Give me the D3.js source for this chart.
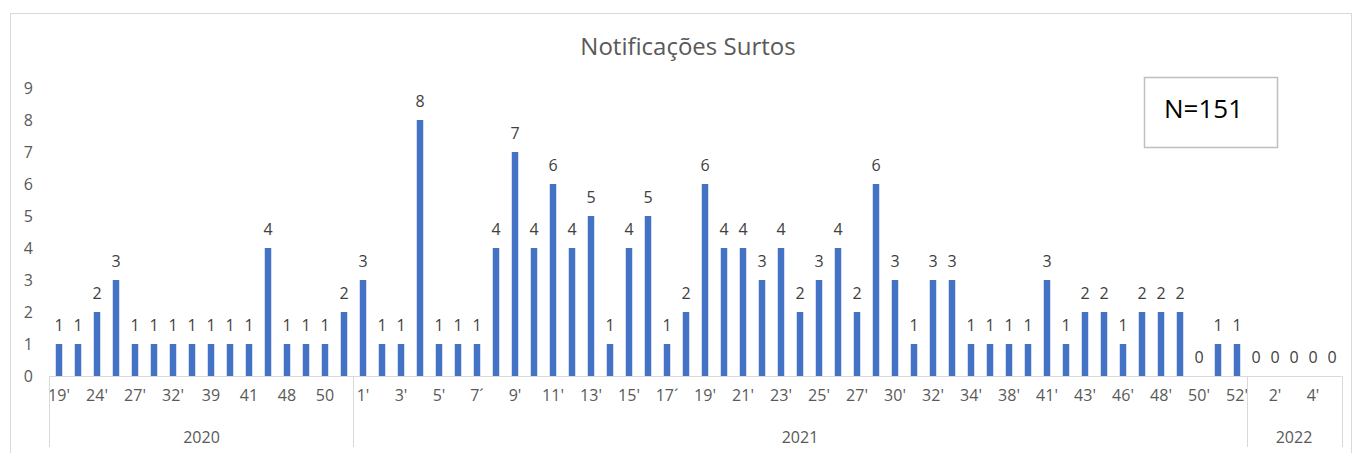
<!DOCTYPE html>
<html>
<head>
<meta charset="utf-8">
<script src="https://cdn.jsdelivr.net/npm/d3@7"></script>
<style>
  body { margin: 0; background: #fff; }
  text { font-family: "Open Sans", "Noto Sans", sans-serif; }
</style>
</head>
<body>
<svg id="chart" width="1355" height="453"></svg>
<script>
// weeks per year (every other label is shown, like the original)
var weeks2020 = ["19'", "22'", "24'", "26'", "27'", "30'", "32'", "36'", "39", "40", "41", "45", "48", "49", "50", "53"];
var values2020 = [1, 1, 2, 3, 1, 1, 1, 1, 1, 1, 1, 4, 1, 1, 1, 2];

var weeks2021 = ["1'", "2'", "3'", "4'", "5'", "6'", "7´", "8'", "9'", "10'", "11'", "12'", "13'", "14'", "15'", "16'",
  "17´", "18'", "19'", "20'", "21'", "22'", "23'", "24'", "25'", "26'", "27'", "28'", "30'", "31'", "32'", "33'",
  "34'", "36'", "38'", "40'", "41'", "42'", "43'", "45'", "46'", "47'", "48'", "49'", "50'", "51'", "52'"];
var values2021 = [3, 1, 1, 8, 1, 1, 1, 4, 7, 4, 6, 4, 5, 1, 4, 5,
  1, 2, 6, 4, 4, 3, 4, 2, 3, 4, 2, 6, 3, 1, 3, 3,
  1, 1, 1, 1, 3, 1, 2, 2, 1, 2, 2, 2, 0, 1, 1];

var weeks2022 = ["1'", "2'", "3'", "4'", "5'"];
var values2022 = [0, 0, 0, 0, 0];

var years = ["2020", "2021", "2022"];
var yTicks = [0, 1, 2, 3, 4, 5, 6, 7, 8, 9];
var total = "N=151";

drawChart = function() {
  var data = [];
  [[weeks2020, values2020], [weeks2021, values2021], [weeks2022, values2022]].forEach(function(pair, yi) {
    pair[0].forEach(function(w, i) {
      data.push({ key: years[yi] + '-' + w, week: w, year: years[yi], value: pair[1][i] });
    });
  });

  var svg = d3.select('#chart');

  var plotLeft = 49.5, plotRight = 1341.5, plotTop = 88, plotBottom = 376;

  var x = d3.scaleBand()
    .domain(data.map(function(d) { return d.key; }))
    .range([plotLeft, plotRight])
    .paddingInner(0.66)
    .paddingOuter(0.33);

  var y = d3.scaleLinear()
    .domain([0, 9])
    .range([plotBottom, plotTop]);

  // outer chart border
  svg.append('rect')
    .attr('x', 10.5).attr('y', 13.5)
    .attr('width', 1341).attr('height', 460)
    .style('fill', 'none')
    .style('stroke', '#d9d9d9');

  // title
  svg.append('text')
    .attr('x', 688).attr('y', 55)
    .attr('text-anchor', 'middle')
    .style('font-size', '24px')
    .style('fill', '#595959')
    .text('Notificações Surtos');

  // y axis labels
  var gy = svg.append('g')
    .attr('transform', 'translate(33,0)')
    .call(d3.axisLeft(y).tickValues(yTicks).tickSize(0).tickPadding(0));
  gy.select('.domain').remove();
  gy.selectAll('text')
    .style('font-family', '"Open Sans", sans-serif')
    .style('font-size', '16px')
    .style('fill', '#595959');

  // bars
  svg.append('g').selectAll('rect')
    .data(data)
    .enter().append('rect')
    .attr('x', function(d) { return x(d.key); })
    .attr('y', function(d) { return y(d.value); })
    .attr('width', x.bandwidth())
    .attr('height', function(d) { return plotBottom - y(d.value); })
    .style('fill', '#4472c4');

  // data labels
  svg.append('g').selectAll('text')
    .data(data)
    .enter().append('text')
    .attr('x', function(d) { return x(d.key) + x.bandwidth() / 2; })
    .attr('y', function(d) { return y(d.value) - 13; })
    .attr('text-anchor', 'middle')
    .style('font-size', '16px')
    .style('fill', '#404040')
    .text(function(d) { return d.value; });

  // x axis: week labels (every other one)
  var gx = svg.append('g')
    .attr('transform', 'translate(0,' + plotBottom + ')')
    .call(d3.axisBottom(x)
      .tickSize(0)
      .tickPadding(14)
      .tickFormat(function(k, i) { return i % 2 === 0 ? data[i].week : ''; }));
  gx.select('.domain')
    .attr('d', 'M' + plotLeft + ',0.5H' + plotRight)
    .style('stroke', '#d9d9d9');
  gx.selectAll('text')
    .style('font-family', '"Open Sans", sans-serif')
    .style('font-size', '16px')
    .style('fill', '#595959');

  // year groups: separators and labels
  var step = x.step();
  var gap = (step - x.bandwidth()) / 2;
  var groups = years.map(function(yr) {
    var ks = data.filter(function(d) { return d.year === yr; });
    return { year: yr, x0: x(ks[0].key) - gap, x1: x(ks[ks.length - 1].key) + x.bandwidth() + gap };
  });

  var seps = [groups[0].x0].concat(groups.map(function(g) { return g.x1; }));

  svg.append('g').selectAll('line')
    .data(seps)
    .enter().append('line')
    .attr('x1', function(d) { return Math.round(d) + 0.5; })
    .attr('x2', function(d) { return Math.round(d) + 0.5; })
    .attr('y1', plotBottom)
    .attr('y2', 447)
    .style('stroke', '#d9d9d9');

  svg.append('g').selectAll('text')
    .data(groups)
    .enter().append('text')
    .attr('x', function(g) { return (g.x0 + g.x1) / 2; })
    .attr('y', 443)
    .attr('text-anchor', 'middle')
    .style('font-size', '16px')
    .style('fill', '#595959')
    .text(function(g) { return g.year; });

  // N box
  svg.append('rect')
    .attr('x', 1144.5).attr('y', 77.5)
    .attr('width', 133).attr('height', 70)
    .style('fill', '#fff')
    .style('stroke', '#bfbfbf')
    .style('stroke-width', 1.5);
  svg.append('text')
    .attr('x', 1164).attr('y', 118)
    .style('font-size', '26px')
    .style('fill', '#000')
    .text(total);
};

drawChart();
</script>
</body>
</html>
